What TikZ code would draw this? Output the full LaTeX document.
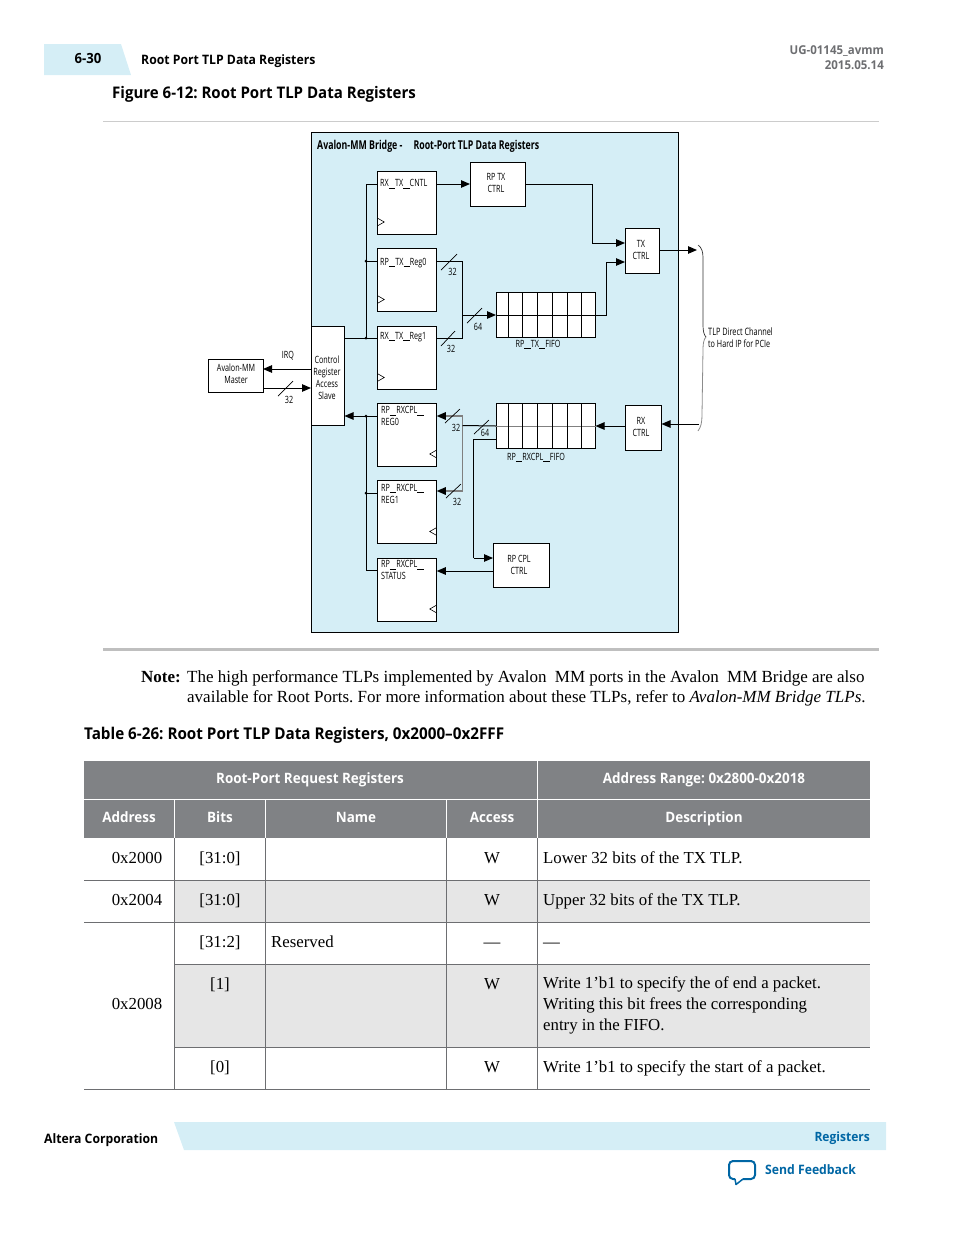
\documentclass[tikz,border=0pt]{standalone}
\usepackage{fontspec}
\usetikzlibrary{arrows,arrows.meta,calc}
\setmainfont{Liberation Serif}
\newfontfamily\headfont[FakeStretch=0.94]{Open Sans}
\newfontfamily\diafont[FakeStretch=0.72]{Open Sans}
\newcommand{\ubar}{\rule[-1.5pt]{6.4pt}{0.5pt}}
\definecolor{paleblue}{HTML}{D5EEF6}
\definecolor{headgray}{HTML}{808285}
\definecolor{rowgray}{HTML}{E6E6E6}
\definecolor{gridgray}{HTML}{6D6E71}
\definecolor{linkblue}{HTML}{0066A4}
\tikzset{
  regbox/.style={draw,fill=white,line width=1pt,inner sep=0pt,outer sep=0pt,minimum width=59.5pt,minimum height=63pt},
  ctrlbox/.style={draw,fill=white,line width=1pt,inner sep=0pt,outer sep=0pt},
  fifobox/.style={draw,fill=white,line width=1pt,inner sep=0pt,outer sep=0pt,minimum width=99.5pt,minimum height=45pt},
  dia/.style={inner sep=0pt,font=\diafont\fontsize{10}{12}\selectfont,align=left},
  ctrltext/.style={inner sep=0pt,font=\diafont\fontsize{10}{12}\selectfont,align=center},
  flow/.style={line width=1pt,-{Triangle[length=9pt,width=7.5pt]}},
  flowgray/.style={line width=1.4pt,draw=black!50,-{Triangle[length=9pt,width=7.5pt,color=black,fill=black]}},
  wire/.style={line width=1pt},
  body/.style={inner sep=0pt,font=\fontsize{16.8}{20}\selectfont},
  note/.style={inner sep=0pt,font=\fontsize{17}{20}\selectfont},
  head/.style={inner sep=0pt,font=\headfont\bfseries\fontsize{14.3}{16}\selectfont},
  tick/.style={line width=0.7pt}
}
\frenchspacing

\begin{document}
\begin{tikzpicture}[x=1pt,y=-1pt]
\useasboundingbox (0,0) rectangle (954,1235);

% page header
\fill[paleblue] (44,44) -- (121,44) -- (131,75) -- (44,75) -- cycle;
\node[head,anchor=base] (pageno) at (88,63) {\fontsize{14}{15}\selectfont 6-30};
\node[head,anchor=base west] (pagetitle) at (141,64) {\fontsize{13}{15}\selectfont Root Port TLP Data Registers};
\node[head,anchor=base east,text=gridgray] (docid) at (884,54) {\fontsize{12.2}{14}\selectfont UG-01145\_avmm};
\node[head,anchor=base east,text=gridgray] (docdate) at (884,69) {\fontsize{12.2}{14}\selectfont 2015.05.14};
\node[head,anchor=base west] (figtitle) at (112,98) {\fontsize{16}{18}\selectfont Figure 6-12: Root Port TLP Data Registers};
\draw[black!20,line width=1pt] (103,121) -- (879,121);
\draw[black!25,line width=2.5pt] (103,649.5) -- (879,649.5);

% diagram frame
\node[draw,fill=paleblue,line width=1pt,inner sep=0pt,minimum width=367.5pt,minimum height=500pt] (bridge) at (495,382.5) {};
\node[dia,anchor=base west] (bridgetitle) at (317,149) {\fontsize{12.2}{14}\selectfont\bfseries Avalon-MM Bridge -\hspace{11pt}Root-Port TLP Data Registers};

% blocks
\node[ctrlbox,minimum width=55pt,minimum height=33pt] (master) at (235.5,375.5) {};
\node[ctrlbox,minimum width=33.5pt,minimum height=99pt] (slave) at (327.75,376) {};

\node[regbox] (cntl) at (407,202.5) {};
\node[regbox] (reg0) at (407,280) {};
\node[regbox] (reg1) at (407,358) {};
\node[regbox] (rxreg0) at (407,434.5) {};
\node[regbox] (rxreg1) at (407,512) {};
\node[regbox] (status) at (407,589.5) {};

\node[ctrlbox,minimum width=55pt,minimum height=44pt] (rptx) at (497.5,184) {};
\node[ctrlbox,minimum width=34.5pt,minimum height=45pt] (txctrl) at (642.25,250.5) {};
\node[ctrlbox,minimum width=36.5pt,minimum height=45pt] (rxctrl) at (643.25,427.5) {};
\node[ctrlbox,minimum width=56.5pt,minimum height=44pt] (rpcpl) at (521.25,565) {};

\node[fifobox] (txfifo) at (545.75,315) {};
\node[fifobox] (rxfifo) at (545.75,426) {};
\draw[wire] (txfifo.west) -- (txfifo.east);
\draw[wire,black!50] (rxfifo.west) -- (rxfifo.east);
\foreach \f in {txfifo,rxfifo} {
  \foreach \c in {508,522,537,552,567,581}
    \draw[wire] (\c,0 |- \f.north) -- (\c,0 |- \f.south);
}

% block labels
\node[ctrltext] (masterlab) at (236,374) {Avalon-MM\\Master};
\node[ctrltext] (slavelab) at (327,377.5) {Control\\Register\\Access\\Slave};
\node[ctrltext] (rptxlab) at (496,183) {RP TX\\CTRL};
\node[ctrltext] (txlab) at (641,249.5) {TX\\CTRL};
\node[ctrltext] (rxlab) at (641,426.5) {RX\\CTRL};
\node[ctrltext] (cpllab) at (519,564.5) {RP CPL\\CTRL};
\node[dia,anchor=north west] (cntllab) at (380,179.5) {RX\ubar TX\ubar CNTL};
\node[dia,anchor=north west] (reg0lab) at (380,258) {RP\ubar TX\ubar Reg0};
\node[dia,anchor=north west] (reg1lab) at (380,332) {RX\ubar TX\ubar Reg1};
\node[dia,anchor=north west] (rx0lab) at (381,406.5) {RP\ubar RXCPL\ubar\\REG0};
\node[dia,anchor=north west] (rx1lab) at (381,484) {RP\ubar RXCPL\ubar\\REG1};
\node[dia,anchor=north west] (statlab) at (381,560.5) {RP\ubar RXCPL\ubar\\STATUS};
\node[dia] (txfifolab) at (538,344.5) {RP\ubar TX\ubar FIFO};
\node[dia] (rxfifolab) at (536,457.5) {RP\ubar RXCPL\ubar FIFO};

% clock marks
\foreach \b in {cntl,reg0,reg1}
  \draw[line width=0.6pt] ([yshift=16pt]\b.south west) -- ([xshift=7pt,yshift=12pt]\b.south west) -- ([yshift=8pt]\b.south west);
\foreach \b in {rxreg0,rxreg1,status}
  \draw[line width=0.6pt] ([yshift=16pt]\b.south east) -- ([xshift=-7pt,yshift=12pt]\b.south east) -- ([yshift=8pt]\b.south east);

% left bus
\coordinate (bustop) at (366,184);
\coordinate (busreg0) at (366,261);
\coordinate (busreg1) at (366,338);
\coordinate (rxbustop) at (366,416);
\coordinate (rxbusmid) at (366,493);
\coordinate (rxbusend) at (366,570);
\draw[wire] (cntl.west |- bustop) -- (bustop) -- (busreg1) -- (slave.east |- busreg1);
\draw[wire] (busreg0) -- (reg0.west |- busreg0);
\draw[wire] (busreg1) -- (reg1.west |- busreg1);
\fill (busreg0) circle (1.5pt) (busreg1) circle (1.5pt);
\draw[flow] (rxreg0.west |- rxbustop) -- (slave.east |- rxbustop);
\draw[wire] (rxbustop) -- (rxbusend) -- (status.west |- rxbusend);
\draw[wire] (rxbusmid) -- (rxreg1.west |- rxbusmid);
\fill (rxbustop) circle (1.5pt) (rxbusmid) circle (1.5pt);

% master and slave
\coordinate (irq) at (311,369);
\coordinate (wr) at (263,388);
\draw[flow] (irq) -- (master.east |- irq);
\draw[flow] (wr) -- (slave.west |- wr);
\node[dia] (irqlab) at (288,355.5) {IRQ};
\draw[tick] (278,396) -- (293,381);
\node[dia] (w32) at (289,400) {32};

% transmit side
\coordinate (cntlout) at (437,184);
\coordinate (txa) at (592,184);
\coordinate (txb) at (592,243);
\coordinate (txc) at (606,315);
\coordinate (txd) at (606,262);
\draw[flow] (cntlout) -- (rptx.west);
\draw[flow] (rptx.east) -- (txa) -- (txb) -- (txctrl.west |- txb);
\draw[flow] (txfifo.east) -- (txc) -- (txd) -- (txctrl.west |- txd);
\coordinate (rega) at (462,261);
\coordinate (regb) at (462,338);
\coordinate (regm) at (462,315);
\draw[wire] (reg0.east |- rega) -- (rega) -- (regb) -- (reg1.east |- regb);
\draw[flow] (regm) -- (txfifo.west);
\draw[tick] (441,270) -- (457,254);
\draw[tick] (441,346) -- (455,331);
\draw[tick] (467,323) -- (482,308);
\node[dia] (t32a) at (452.5,272) {32};
\node[dia] (t32b) at (451,348.5) {32};
\node[dia] (t64) at (478,326.5) {64};

% receive side
\coordinate (rxa) at (462.5,416);
\coordinate (rxb) at (462.5,491);
\coordinate (rxm) at (462.5,425.5);
\coordinate (cpla) at (473.5,439);
\coordinate (cplb) at (473.5,558);
\coordinate (cplout) at (493,571);
\coordinate (chan) at (699,424);
\coordinate (txout) at (697,250);
\draw[flowgray] (rxa) -- (rxreg0.east |- rxa);
\draw[flowgray] (rxa) -- (rxb) -- (rxreg1.east |- rxb);
\draw[wire] (rxm) -- (rxfifo.west);
\draw[wire] (rxfifo.west |- cpla) -- (cpla) -- (cplb);
\draw[flow] (cplb) -- (rpcpl.west |- cplb);
\draw[flow] (cplout) -- (status.east |- cplout);
\draw[flow] (rxctrl.west |- rxfifo.east) -- (rxfifo.east);
\draw[flow] (chan) -- (rxctrl.east |- chan);
\draw[flow] (txctrl.east |- txout) -- (txout);
\draw[tick] (445,423) -- (460,409);
\draw[tick] (446,498) -- (461,484);
\draw[tick] (474,434) -- (489,420);
\node[dia] (r32a) at (456,427.5) {32};
\node[dia] (r32b) at (457,502) {32};
\node[dia] (r64) at (485,433) {64};

% channel brace
\draw[line width=0.7pt,black!80] (698,245) .. controls (702,248) and (703,252) .. (703,258) -- (703,325) .. controls (703,331) and (704,335) .. (706,337);
\draw[line width=0.8pt,black!45] (706,337) .. controls (704,339) and (703,343) .. (703,349) -- (702,415) .. controls (702,422) and (701,427) .. (698,431);
\node[dia,anchor=west] (chanlab) at (708,338) {\fontsize{10.2}{12}\selectfont TLP Direct Channel\\to Hard IP for PCIe};

% note
\node[note,anchor=base west] (notelab) at (141,682) {\bfseries Note:};
\node[note,anchor=base west] (notea) at (187,682) {The high performance TLPs implemented by Avalon\hspace{4pt} MM ports in the Avalon\hspace{4pt} MM Bridge are also};
\node[note,anchor=base west] (noteb) at (187,702) {available for Root Ports. For more information about these TLPs, refer to \textit{Avalon-MM Bridge TLPs}.};
\node[head,anchor=base west] (tabletitle) at (84,739) {\fontsize{16.2}{18}\selectfont Table 6-26: Root Port TLP Data Registers, 0x2000–0x2FFF};

% table
\fill[headgray] (84,761) rectangle (870,838);
\fill[rowgray] (174.5,880) rectangle (870,922);
\fill[rowgray] (174.5,964) rectangle (870,1047);
\draw[white,line width=1pt] (84,799.5) -- (870,799.5);
\draw[white,line width=1pt] (537.5,761) -- (537.5,838);
\foreach \x in {174.5,265.5,446.5}
  \draw[white,line width=1pt] (\x,799.5) -- (\x,838);
\foreach \x in {174.5,265.5,446.5,537.5}
  \draw[gridgray,line width=1pt] (\x,838) -- (\x,1089);
\foreach \y in {880.5,922.5,1089.5}
  \draw[gridgray,line width=1pt] (84,\y) -- (870,\y);
\foreach \y in {964.5,1047.5}
  \draw[gridgray,line width=1pt] (174.5,\y) -- (870,\y);

\foreach \x/\y/\t [count=\n] in {310/783/Root-Port Request Registers,704/783/{Address Range: 0x2800-0x2018},129/822/Address,220/822/Bits,356/822/Name,492/822/Access,704/822/Description}
  \node[head,anchor=base,text=white] (hd\n) at (\x,\y) {\t};

\foreach \x/\y/\t [count=\n] in {137/863/0x2000,220/863/{[31:0]},492/863/W,137/905/0x2004,220/905/{[31:0]},492/905/W,220/947/{[31:2]},492/947/---,137/1009/0x2008,220/989/{[1]},492/989/W,220/1072/{[0]},492/1072/W}
  \node[body,anchor=base] (cell\n) at (\x,\y) {\t};

\foreach \y/\t [count=\n] in {863/Lower 32 bits of the TX TLP.,905/Upper 32 bits of the TX TLP.,947/---,988/Write 1’b1 to specify the of end a packet.,1009/Writing this bit frees the corresponding,1030/entry in the FIFO.,1072/Write 1’b1 to specify the start of a packet.}
  \node[body,anchor=base west] (desc\n) at (543,\y) {\t};
\node[body,anchor=base west] (resv) at (271,947) {Reserved};

% page footer
\fill[paleblue] (174,1122) -- (886,1122) -- (886,1150) -- (184,1150) -- cycle;
\node[head,anchor=base west] (corp) at (44,1143) {\fontsize{13}{15}\selectfont Altera Corporation};
\node[head,anchor=base east,text=linkblue] (section) at (870,1141) {\fontsize{12.8}{15}\selectfont Registers};
\node[head,anchor=base west,text=linkblue] (feedback) at (765,1174) {\fontsize{13}{15}\selectfont Send Feedback};
\draw[linkblue,line width=2pt,rounded corners=4pt] (735,1179) -- (729,1179) -- (729,1161) -- (755,1161) -- (755,1179) -- (743,1179);
\draw[linkblue,line width=1.5pt,line join=round] (735,1179) -- (736,1184.5) -- (743,1179);
\end{tikzpicture}
\end{document}
